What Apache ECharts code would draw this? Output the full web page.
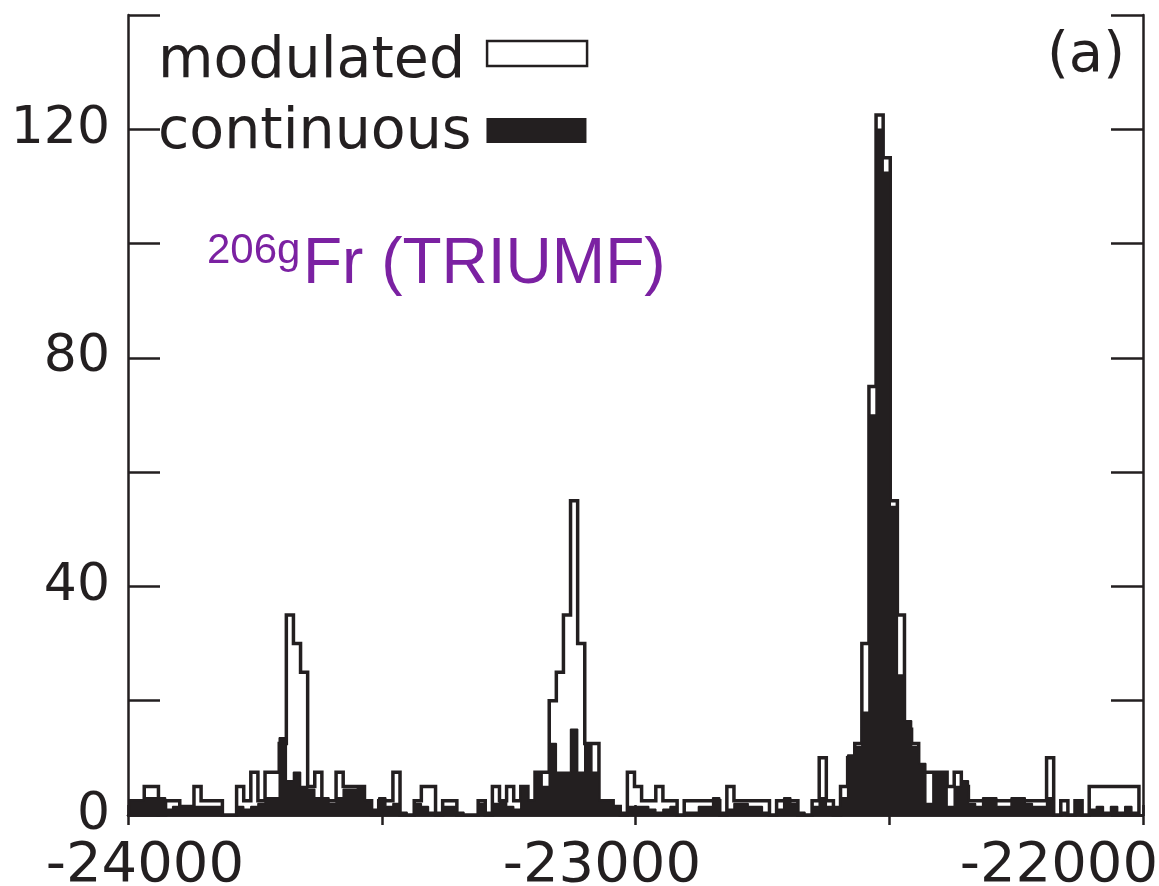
<!DOCTYPE html>
<html>
<head>
<meta charset="utf-8">
<script src="https://cdn.jsdelivr.net/npm/echarts@6/dist/echarts.min.js"></script>
<style>
  html, body { margin: 0; padding: 0; background: #fff; }
  #chart { width: 1159px; height: 886px; }
</style>
</head>
<body>
<div id="chart"></div>
<script>
// Histogram binning (frequency offset axis)
const binStart = -23996;
const binWidth = 14;

// Counts per bin, modulated excitation (outline histogram)
const modulated = [
  2.5, 2.5, 5, 5, 0, 2.5, 2.5, 1.5, 1.5, 5,
  2.5, 2.5, 2.5, 0, 0, 5, 2.5, 7.5, 2.5, 7.5,
  7.5, 12.5, 35, 30, 25, 5, 7.5, 2.5, 2.5, 7.5,
  5, 5, 5, 2.5, 0, 2.5, 2.5, 7.5, 0, 0,
  2.5, 5, 5, 0, 2.5, 2.5, 0, 0, 0, 2.5,
  0, 5, 2.5, 5, 2.5, 5, 2.5, 7.5, 7.5, 20,
  25, 35, 55, 30, 12.5, 12.5, 2.5, 2.5, 1.5, 0,
  7.5, 5, 2.5, 2.5, 5, 2.5, 2.5, 0, 2.5, 2.5,
  2.5, 2.5, 2.5, 0, 5, 2.5, 2.5, 2.5, 2.5, 2.5,
  0, 2.5, 2.5, 2.5, 0, 0, 2.5, 10, 2.5, 0,
  5, 10, 12.5, 30, 75, 122.5, 115, 55, 35, 15,
  12.5, 7.5, 7.5, 7.5, 7.5, 5, 7.5, 5, 2.5, 2.5,
  2.5, 2.5, 2.5, 2.5, 2.5, 2.5, 2.5, 2.5, 2.5, 10,
  0, 2.5, 0, 2.5, 0, 5, 5, 5, 5, 5,
  5, 5
];

// Counts per bin, continuous excitation (filled histogram)
const continuous = [
  2.5, 2.5, 3, 3, 3, 1, 1.5, 1.5, 1.5, 1.5,
  1.5, 1.5, 1.5, 0, 0, 1.5, 1, 1.5, 2, 3,
  3, 13.5, 6, 7.5, 5, 4.5, 3, 3, 2, 3,
  4.5, 4.5, 5, 2.5, 1, 3, 1.5, 2, 0.5, 0,
  2, 1.5, 0.5, 0.5, 1.5, 1.5, 0.5, 0, 0, 2,
  0.5, 2, 2.5, 1.5, 1, 5, 2.5, 7.5, 5, 12.5,
  7.5, 7.5, 15, 7.5, 12.5, 7.5, 2.5, 2.5, 1.5, 0.5,
  1.5, 1.5, 1.5, 1, 0.5, 1, 1.5, 0, 0.5, 0.5,
  1.5, 1.5, 3, 0.5, 1, 2, 2, 1.5, 1.5, 0.5,
  0, 1, 3, 2, 0.5, 0, 1.5, 3, 1.5, 1.5,
  3, 10.5, 12, 18, 70, 120, 112.5, 54, 24.5, 16.5,
  12, 9, 2, 7.5, 7.5, 1.5, 5, 6, 2, 1.5,
  3, 3, 1.5, 1.5, 3, 3, 2, 1.5, 1.5, 3,
  0, 0.5, 0, 2.5, 0, 1, 1.5, 0.5, 1.5, 0.5,
  1.5, 0.5
];

const xLabels = [-24000, -23000, -22000];
const yLabels = [0, 40, 80, 120];

const ink = '#231f20';
const purple = '#7b21a2';
const font = 'DejaVu Sans';

// Turn bin counts into step-line vertices (left edges, closed to zero at both ends)
function stepPoints(values) {
  const pts = [[binStart, 0]];
  values.forEach((v, i) => pts.push([binStart + i * binWidth, v]));
  const end = binStart + values.length * binWidth;
  pts.push([end, values[values.length - 1]]);
  pts.push([end, 0]);
  return pts;
}

const chart = echarts.init(document.getElementById('chart'), null, { renderer: 'canvas' });

const axisLine = { show: true, lineStyle: { color: ink, width: 2.5 } };
const tickStyle = { color: ink, width: 2.5 };

// One legend block per entry so each label can sit at its own baseline
function legendBlock(name, top, padTop, rightPad, itemStyle) {
  return {
    orient: 'vertical',
    left: 158,
    top: top,
    padding: 0,
    align: 'right',
    itemWidth: 100,
    itemHeight: 25,
    selectedMode: false,
    formatter: '{t|{name}}',
    textStyle: {
      rich: {
        t: {
          fontFamily: font, fontSize: 57, color: ink, lineHeight: 60,
          padding: [padTop, rightPad, 0, 0]
        }
      }
    },
    data: [{ name: name, icon: 'rect', itemStyle: itemStyle }]
  };
}

chart.setOption({
  animation: false,
  backgroundColor: '#fff',
  grid: { left: 128, right: 16, top: 15, bottom: 71, containLabel: false, outerBoundsMode: 'none' },
  legend: [
    legendBlock('modulated', 16, 18, 17, { color: '#fff', borderColor: ink, borderWidth: 2.5 }),
    legendBlock('continuous', 99, 6, 10, { color: ink, borderColor: ink, borderWidth: 0 })
  ],
  xAxis: [
    {
      type: 'value', position: 'bottom', min: -24000, max: -22000, interval: 500,
      axisLine: axisLine,
      axisTick: { show: true, inside: true, length: 10, lineStyle: tickStyle },
      splitLine: { show: false },
      axisLabel: { show: false }
    },
    {
      type: 'value', position: 'top', min: -24000, max: -22000, interval: 500,
      axisLine: axisLine,
      axisTick: { show: true, inside: true, length: 10, lineStyle: tickStyle },
      splitLine: { show: false },
      axisLabel: { show: false }
    },
    {
      // tick-label row of the bottom axis, laid out on its own slightly narrower span
      type: 'value', position: 'bottom', min: -24037, max: -21816,
      axisLine: { show: false },
      axisTick: { show: false },
      splitLine: { show: false },
      axisLabel: {
        show: true, margin: 23, fontFamily: font, fontSize: 56, color: ink,
        customValues: xLabels,
        formatter: v => String(v)
      }
    }
  ],
  yAxis: [
    {
      type: 'value', position: 'left', min: 0, max: 140, interval: 20,
      axisLine: axisLine,
      axisTick: { show: true, inside: true, length: 32, lineStyle: tickStyle },
      splitLine: { show: false },
      axisLabel: {
        show: true, margin: 18, fontFamily: font, fontSize: 52, color: ink,
        formatter: v => (yLabels.indexOf(v) >= 0 ? String(v) : '')
      }
    },
    {
      type: 'value', position: 'right', min: 0, max: 140, interval: 20,
      axisLine: axisLine,
      axisTick: { show: true, inside: true, length: 32, lineStyle: tickStyle },
      splitLine: { show: false },
      axisLabel: { show: false }
    }
  ],
  series: [
    {
      name: 'modulated',
      type: 'line',
      step: 'end',
      xAxisIndex: 0, yAxisIndex: 0,
      symbol: 'none',
      z: 2,
      lineStyle: { color: ink, width: 3.5, join: 'miter' },
      itemStyle: { color: '#fff', borderColor: ink },
      data: stepPoints(modulated)
    },
    {
      name: 'continuous',
      type: 'line',
      step: 'end',
      xAxisIndex: 0, yAxisIndex: 0,
      symbol: 'none',
      z: 3,
      lineStyle: { color: ink, width: 1.5 },
      areaStyle: { color: ink, opacity: 1 },
      itemStyle: { color: ink },
      data: stepPoints(continuous)
    }
  ],
  graphic: [
    {
      type: 'text', right: 34, top: 28,
      style: { text: '(a)', font: '56px "DejaVu Sans"', fill: ink }
    },
    {
      type: 'text', left: 207, top: 230,
      style: { text: '206g', font: '42px "Liberation Sans"', fill: purple }
    },
    {
      type: 'text', left: 303, top: 233,
      style: { text: 'Fr (TRIUMF)', font: '64px "Liberation Sans"', fill: purple }
    }
  ]
});
</script>
</body>
</html>
